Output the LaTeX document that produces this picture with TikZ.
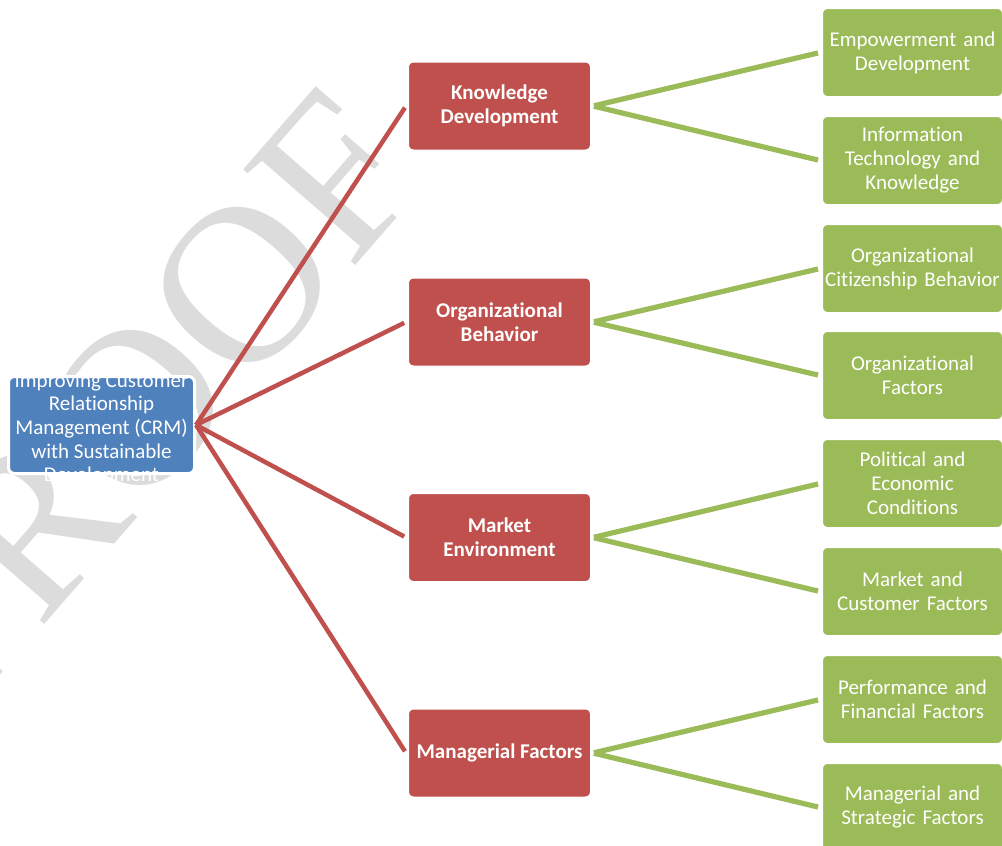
\documentclass[tikz,border=0pt]{standalone}
\usepackage{fontspec}
\setmainfont{Carlito}[Ligatures=NoCommon]
\newfontfamily\wmfont{Liberation Serif}

\definecolor{rootblue}{HTML}{4F81BD}
\definecolor{factred}{HTML}{C0504D}
\definecolor{itemgreen}{HTML}{9BBB59}
\definecolor{wmgray}{HTML}{DCDCDC}

\tikzset{
  rootbox/.style={rectangle,rounded corners=6pt,fill=rootblue,draw=white,line width=3pt,
    minimum width=186pt,minimum height=97pt,inner sep=0pt},
  roottext/.style={text=white,align=center,inner sep=0pt,font=\fontsize{21}{23.6}\selectfont},
  factbox/.style={rectangle,rounded corners=6pt,fill=factred,draw=white,line width=3pt,
    minimum width=184pt,minimum height=90pt,text=white,align=center,
    font=\bfseries\fontsize{21}{24}\selectfont},
  itembox/.style={rectangle,rounded corners=6pt,fill=itemgreen,draw=white,line width=3pt,
    text width=176pt,inner xsep=3pt,minimum height=90pt,text=white,align=center,
    font=\fontsize{21}{24}\selectfont},
  factline/.style={draw=factred,line width=4.5pt,shorten >=2pt},
  itemline/.style={draw=itemgreen,line width=5.2pt,shorten <=1pt,shorten >=2pt},
  wmark/.style={anchor=base west,rotate=49,inner sep=0pt,text=wmgray,
    font=\wmfont\fontsize{225}{225}\selectfont}
}

\begin{document}
\begin{tikzpicture}[x=1pt,y=-1pt]
  \useasboundingbox (0,0) rectangle (1002,846);
  \clip (0,0) rectangle (1002,846);
  % watermark
  \node[wmark] (wm) at (-43,725) {PROOF};
  % boxes
  \node[rootbox] (root) at (101.5,425) {};
  \node[factbox] (kd) at (499.5,106) {Knowledge\\Development};
  \node[factbox] (ob) at (499.5,322) {Organizational\\Behavior};
  \node[factbox] (me) at (499.5,537.5) {Market\\Environment};
  \node[factbox] (mf) at (499.5,753) {Managerial Factors};
  \node[itembox] (emp) at (912.5,52.5) {Empowerment and\\Development};
  \node[itembox] (itk) at (912.5,160.5) {Information\\Technology and\\Knowledge};
  \node[itembox] (ocb) at (912.5,268.5) {Organizational\\Citizenship Behavior};
  \node[itembox] (orf) at (912.5,375.5) {Organizational\\Factors};
  \node[itembox] (pec) at (912.5,483.5) {Political and\\Economic\\Conditions};
  \node[itembox] (mcf) at (912.5,591.5) {Market and\\Customer Factors};
  \node[itembox] (pff) at (912.5,699.5) {Performance and\\Financial Factors};
  \node[itembox] (msf) at (912.5,807.5) {Managerial and\\Strategic Factors};
  % connectors
  \draw[factline] (root.east) -- (kd.west);
  \draw[factline] (root.east) -- (ob.west);
  \draw[factline] (root.east) -- (me.west);
  \draw[factline] (root.east) -- (mf.west);
  \draw[itemline] (kd.east) -- (emp.west);
  \draw[itemline] (kd.east) -- (itk.west);
  \draw[itemline] (ob.east) -- (ocb.west);
  \draw[itemline] (ob.east) -- (orf.west);
  \draw[itemline] (me.east) -- (pec.west);
  \draw[itemline] (me.east) -- (mcf.west);
  \draw[itemline] (mf.east) -- (pff.west);
  \draw[itemline] (mf.east) -- (msf.west);
  \node[roottext] (rtxt) at ([yshift=-4pt]root.center) {Improving Customer\\Relationship\\Management (CRM)\\with Sustainable\\Development};
\end{tikzpicture}
\end{document}
